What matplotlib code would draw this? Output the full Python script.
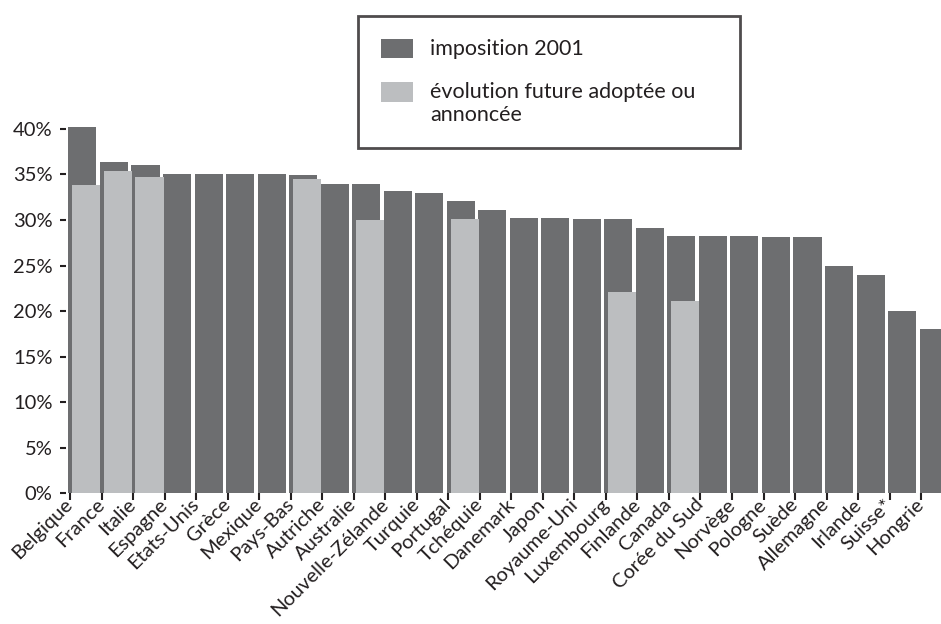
import numpy as np
import matplotlib.pyplot as plt
from matplotlib.ticker import FuncFormatter

pays = ['Belgique', 'France', 'Italie', 'Espagne', 'Etats-Unis', 'Grèce',
        'Mexique', 'Pays-Bas', 'Autriche', 'Australie', 'Nouvelle-Zélande',
        'Turquie', 'Portugal', 'Tchéquie', 'Danemark', 'Japon', 'Royaume-Uni',
        'Luxembourg', 'Finlande', 'Canada', 'Corée du Sud', 'Norvège',
        'Pologne', 'Suède', 'Allemagne', 'Irlande', 'Suisse*', 'Hongrie']
imposition_2001 = [40.2, 36.4, 36.0, 35.0, 35.0, 35.0, 35.0, 34.9, 34.0, 34.0,
                   33.2, 33.0, 32.1, 31.1, 30.2, 30.2, 30.1, 30.1, 29.1, 28.2,
                   28.2, 28.2, 28.1, 28.1, 24.9, 24.0, 20.0, 18.0]
# future rates, only where a change is adopted or announced
evolution = {'Belgique': 33.8, 'France': 35.4, 'Italie': 34.7, 'Pays-Bas': 34.5,
             'Australie': 30.0, 'Portugal': 30.1, 'Luxembourg': 22.1,
             'Canada': 21.1}

sombre = '#6d6e70'
clair = '#bcbec0'
texte = '#231f20'

plt.rcParams['font.family'] = ['Lato', 'DejaVu Sans']
plt.rcParams['text.color'] = texte

fig = plt.figure(figsize=(9.41, 6.24), dpi=100)
ax = fig.add_axes([0.0705, 0.2095, 0.9295, 0.5986])

x = np.arange(len(pays))
b1 = ax.bar(x - 0.05, imposition_2001, width=0.89, align='edge', color=sombre,
            label='imposition 2001', zorder=1)
xe = np.array([pays.index(p) for p in evolution])
b2 = ax.bar(xe + 0.077, list(evolution.values()), width=0.89,
            align='edge', color=clair,
            label='évolution future adoptée ou\nannoncée', zorder=2)

ax.set_xlim(-0.116, 27.63)
ax.set_ylim(0, 41)
ax.set_yticks(np.arange(0, 41, 5))
ax.yaxis.set_major_formatter(FuncFormatter(lambda v, p: f'{v:.0f}%'))
ax.set_xticks(x)
ax.set_xticklabels(pays, rotation=45, ha='right', va='center',
                   rotation_mode='anchor')
ax.tick_params(axis='y', length=4, width=1.5, pad=6, labelsize=14.5,
               color=texte, labelcolor=texte)
ax.tick_params(axis='x', length=5, width=1.5, pad=1, labelsize=14.5,
               color=texte, labelcolor=texte)
for s in ax.spines.values():
    s.set_visible(False)

# fixed-size legend box above the bars
x0, y0, x1, y1 = 358 / 941, 1 - 148 / 624, 740 / 941, 1 - 16 / 624
leg = fig.legend(handles=[b1, b2], loc='upper left',
                 bbox_to_anchor=(x0, y0, x1 - x0, y1 - y0), mode='expand',
                 fontsize=15.5, frameon=True, fancybox=False, shadow=False,
                 handlelength=1.5, handleheight=1.0, handletextpad=0.8,
                 borderpad=1.05, labelspacing=1.1, borderaxespad=0)
leg.get_frame().set_edgecolor(texte)
leg.get_frame().set_linewidth(2)
for t in leg.get_texts():
    t.set_color(texte)
# swatch level with the first line of a two-line label
for col in leg._legend_handle_box.get_children():
    for item in col.get_children():
        item.align = 'top'

fig.savefig('out.png', dpi=100)
